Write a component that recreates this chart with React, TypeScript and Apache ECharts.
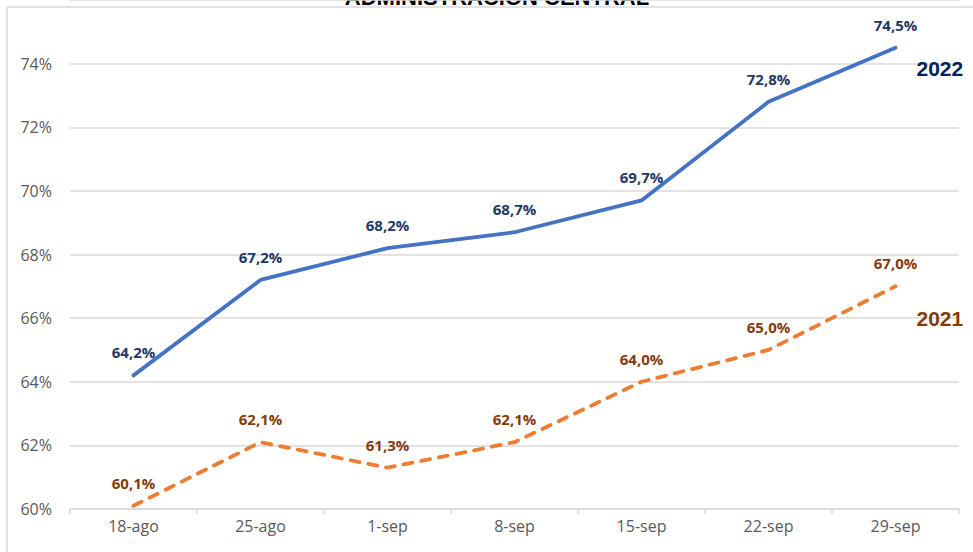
import React, { useEffect, useRef } from "react";
import * as echarts from "echarts";

const categories = ["18-ago", "25-ago", "1-sep", "8-sep", "15-sep", "22-sep", "29-sep"];
const values2022 = [64.2, 67.2, 68.2, 68.7, 69.7, 72.8, 74.5];
const values2021 = [60.1, 62.1, 61.3, 62.1, 64.0, 65.0, 67.0];
const titleText = "ADMINISTRACIÓN CENTRAL";

const fmt = (v: number) => v.toFixed(1).replace(".", ",") + "%";

export default function App() {
  const ref = useRef<HTMLDivElement>(null);
  useEffect(() => {
    if (!ref.current) return;
    const chart = echarts.init(ref.current, undefined, { renderer: "svg" });
    chart.setOption({
      animation: false,
      backgroundColor: "#ffffff",
      grid: { left: 70, right: 14, top: 0, bottom: 43 },
      graphic: [
        { type: "line", shape: { x1: 7, y1: 7, x2: 973, y2: 7 }, style: { stroke: "#D9D9D9", lineWidth: 1.5 } },
        { type: "line", shape: { x1: 7, y1: 7, x2: 7, y2: 552 }, style: { stroke: "#D9D9D9", lineWidth: 1.5 } },
        {
          type: "text",
          x: 497,
          y: -3,
          style: {
            text: titleText,
            fontFamily: "Liberation Sans",
            fontWeight: "bold",
            fontSize: 22,
            fill: "#000000",
            align: "center",
            verticalAlign: "middle",
          },
        },
      ],
      xAxis: {
        type: "category",
        data: categories,
        boundaryGap: true,
        axisLine: { lineStyle: { color: "#D9D9D9", width: 1.5 } },
        axisTick: { show: true, length: 5, lineStyle: { color: "#D9D9D9", width: 1.5 } },
        axisLabel: { color: "#595959", fontSize: 16, fontFamily: "Open Sans", margin: 9 },
      },
      yAxis: {
        type: "value",
        min: 60,
        max: 76,
        interval: 2,
        axisLine: { show: false },
        axisTick: { show: false },
        splitLine: { lineStyle: { color: "#D9D9D9", width: 1.5 } },
        axisLabel: {
          color: "#595959",
          fontSize: 16,
          fontFamily: "Open Sans",
          margin: 18,
          formatter: (v: number) => (v >= 76 ? "" : v + "%"),
        },
      },
      series: [
        {
          name: "2022",
          type: "line",
          data: values2022,
          showSymbol: true,
          symbol: "circle",
          symbolSize: 1,
          itemStyle: { color: "rgba(0,0,0,0)", borderWidth: 0 },
          lineStyle: { color: "#4472C4", width: 3.8, cap: "round" },
          label: {
            show: true,
            position: "top",
            distance: 15,
            color: "#1F3864",
            fontWeight: "bold",
            fontSize: 15,
            fontFamily: "Open Sans",
            formatter: (p: any) => fmt(p.value),
          },
          endLabel: {
            show: true,
            formatter: "2022",
            color: "#002060",
            fontWeight: "bold",
            fontSize: 21,
            fontFamily: "Liberation Sans",
            align: "left",
            verticalAlign: "middle",
            offset: [13, 20.5],
          },
        },
        {
          name: "2021",
          type: "line",
          data: values2021,
          showSymbol: true,
          symbol: "circle",
          symbolSize: 1,
          itemStyle: { color: "rgba(0,0,0,0)", borderWidth: 0 },
          lineStyle: { color: "#ED7D31", width: 3.8, type: [9, 9], cap: "round" },
          label: {
            show: true,
            position: "top",
            distance: 15,
            color: "#843C0C",
            fontWeight: "bold",
            fontSize: 15,
            fontFamily: "Open Sans",
            formatter: (p: any) => fmt(p.value),
          },
          endLabel: {
            show: true,
            formatter: "2021",
            color: "#843C0C",
            fontWeight: "bold",
            fontSize: 21,
            fontFamily: "Liberation Sans",
            align: "left",
            verticalAlign: "middle",
            offset: [13, 32.5],
          },
        },
      ],
    });
    return () => chart.dispose();
  }, []);
  return <div ref={ref} style={{ width: 973, height: 552, position: "fixed", left: 0, top: 0 }} />;
}
